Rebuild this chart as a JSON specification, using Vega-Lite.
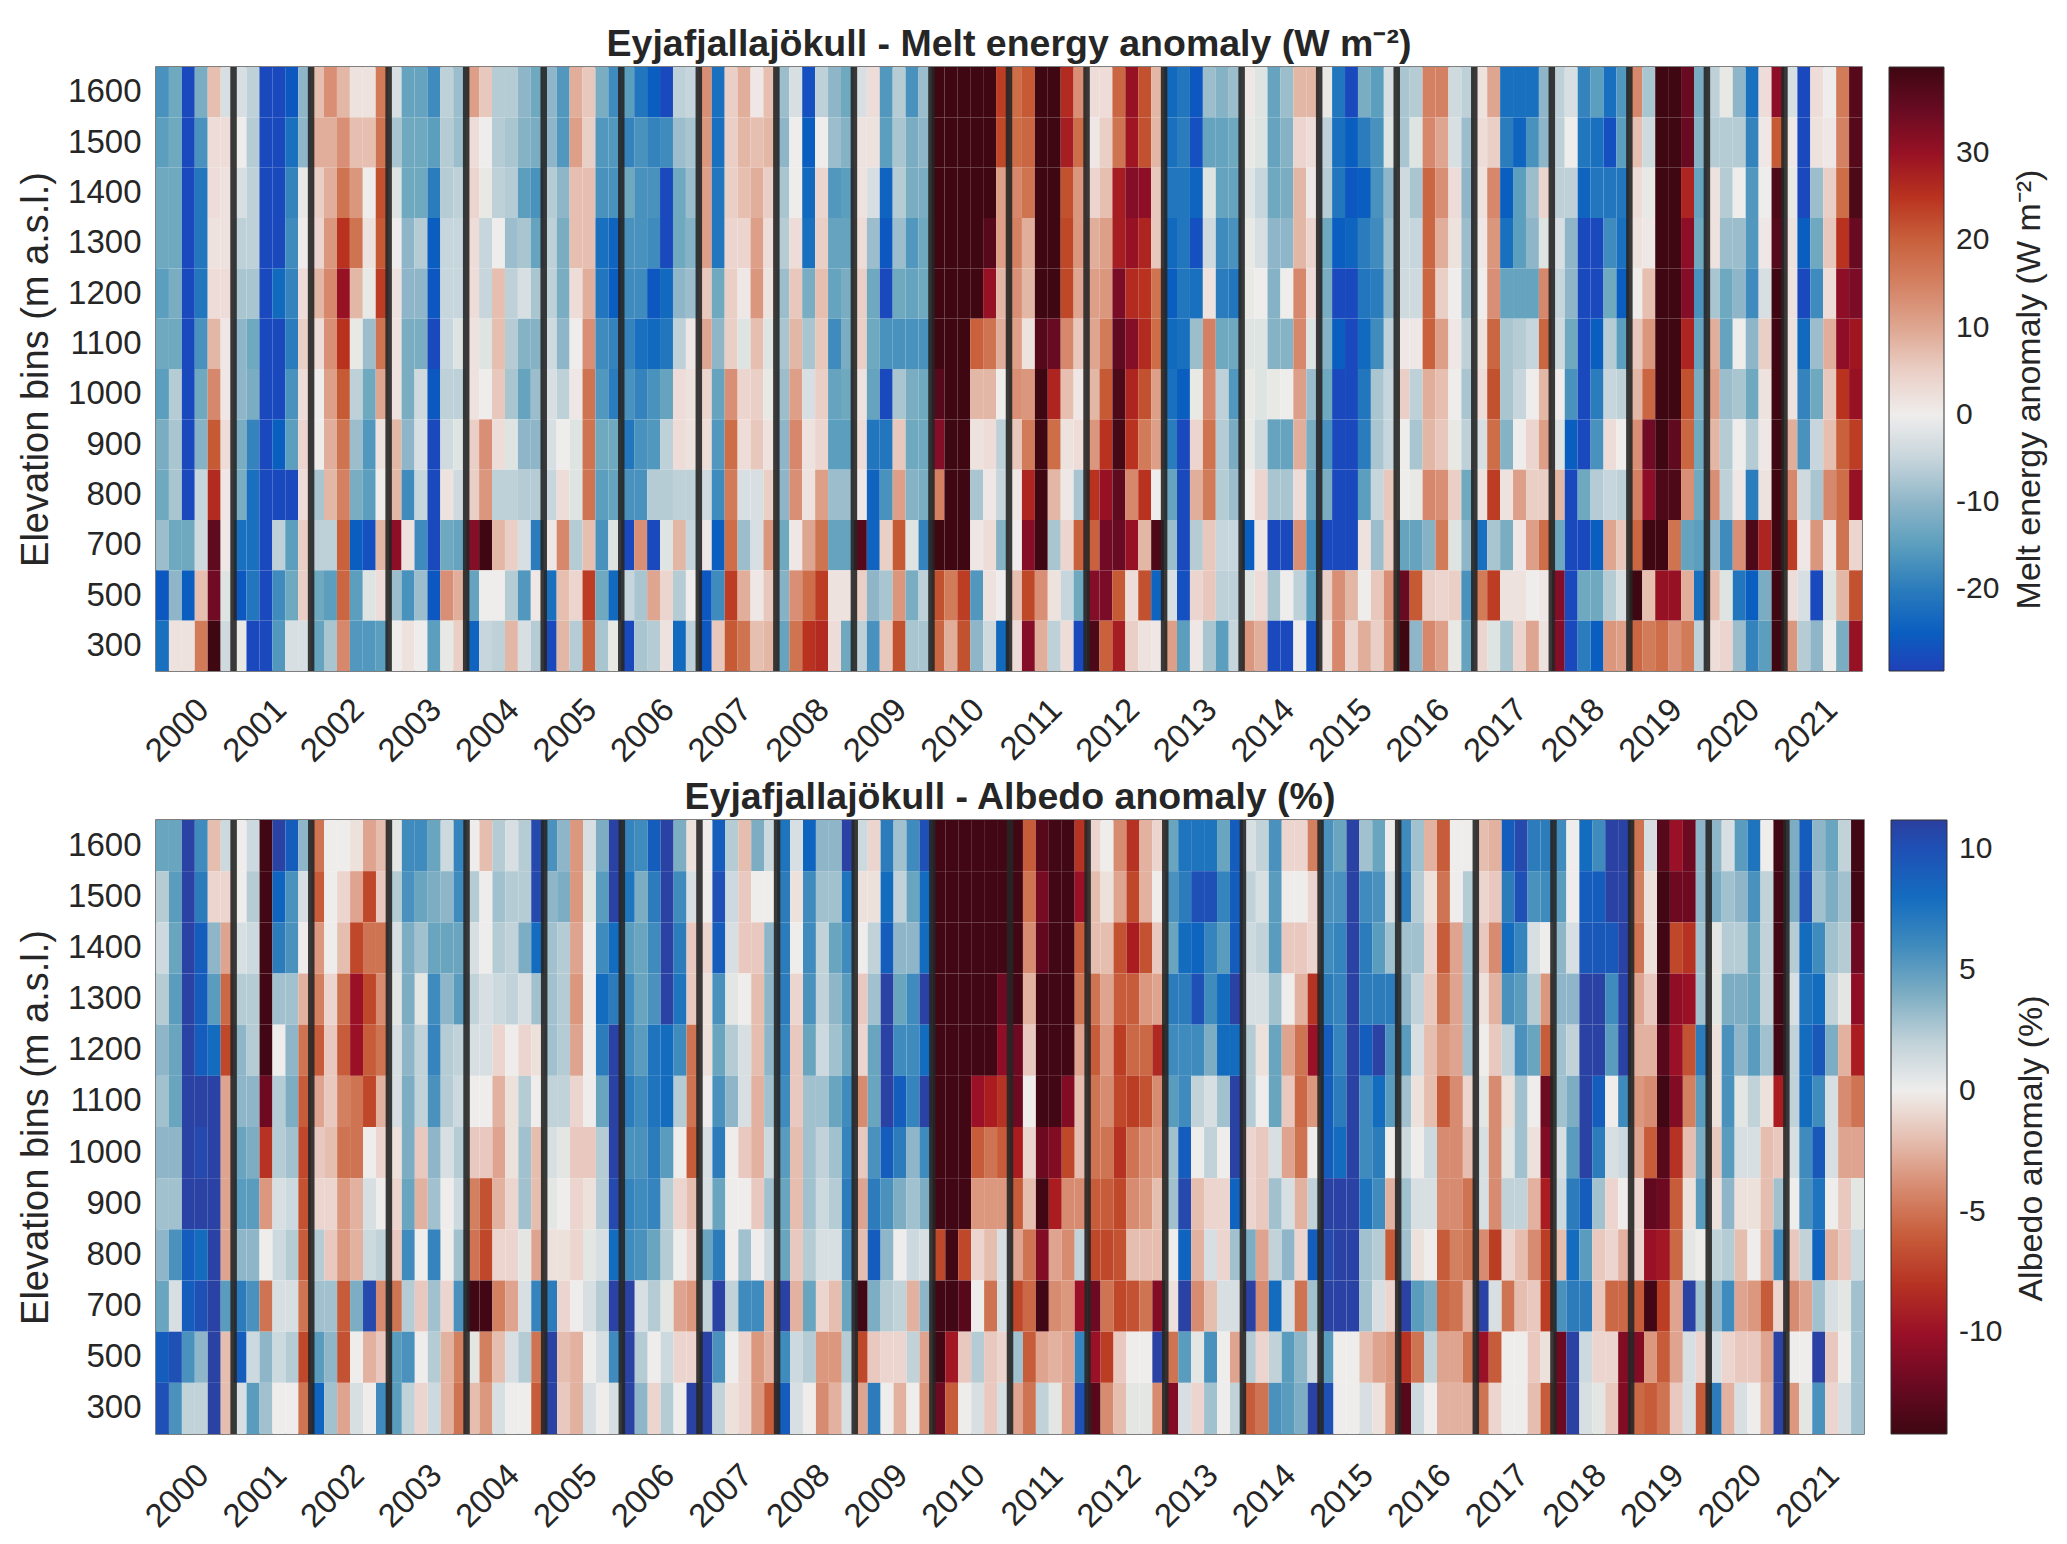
{"$schema":"https://vega.github.io/schema/vega-lite/v6.json","background":"white","padding":{"left":16,"top":25,"right":0,"bottom":0},"config":{"font":"Liberation Sans","view":{"stroke":"#555555","strokeWidth":1.5}},
"datasets":{"s":[{"t":2001.1},{"t":2002.1},{"t":2003.1},{"t":2004.1},{"t":2005.1},{"t":2006.1},{"t":2007.1},{"t":2008.1},{"t":2009.1},{"t":2010.1},{"t":2011.1},{"t":2012.1},{"t":2013.1},{"t":2014.1},{"t":2015.1},{"t":2016.1},{"t":2017.1},{"t":2018.1},{"t":2019.1},{"t":2020.1},{"t":2021.1}],
"m":[
{"t":2000.1,"1600":-17,"1500":-15,"1400":-13,"1300":-13,"1200":-15,"1100":-13,"1000":-15,"900":-12,"800":-13,"700":-9,"500":-26,"300":-22},
{"t":2000.2,"1600":-13,"1500":-13,"1400":-13,"1300":-13,"1200":-12,"1100":-13,"1000":-7,"900":-8,"800":-8,"700":-13,"500":-10,"300":2},
{"t":2000.3,"1600":-28,"1500":-28,"1400":-28,"1300":-28,"1200":-28,"1100":-28,"1000":-28,"900":-28,"800":-28,"700":-13,"500":-25,"300":2},
{"t":2000.4,"1600":-12,"1500":-17,"1400":-21,"1300":-21,"1200":-21,"1100":-17,"1000":-13,"900":-11,"800":-5,"700":-4,"500":7,"300":16},
{"t":2000.5,"1600":7,"1500":3,"1400":3,"1300":2,"1200":3,"1100":8,"1000":14,"900":21,"800":26,"700":36,"500":34,"300":40},
{"t":2000.6,"1600":-3,"1500":3,"1400":2,"1300":2,"1200":3,"1100":1,"1000":1,"900":3,"800":1,"700":1,"500":-2,"300":-4},
{"t":2001.1,"1600":-3,"1500":0,"1400":-3,"1300":-6,"1200":-8,"1100":-10,"1000":-10,"900":-12,"800":-12,"700":-22,"500":-26,"300":-1},
{"t":2001.2,"1600":-6,"1500":-7,"1400":-6,"1300":-6,"1200":-8,"1100":-13,"1000":-12,"900":-19,"800":-22,"700":-22,"500":-21,"300":-28},
{"t":2001.3,"1600":-28,"1500":-28,"1400":-28,"1300":-28,"1200":-28,"1100":-28,"1000":-28,"900":-28,"800":-28,"700":-28,"500":-28,"300":-28},
{"t":2001.4,"1600":-28,"1500":-28,"1400":-28,"1300":-28,"1200":-23,"1100":-28,"1000":-28,"900":-25,"800":-28,"700":-6,"500":-18,"300":-16},
{"t":2001.5,"1600":-26,"1500":-22,"1400":-19,"1300":-18,"1200":-19,"1100":-20,"1000":-17,"900":-15,"800":-28,"700":-15,"500":-13,"300":-3},
{"t":2001.6,"1600":-10,"1500":-10,"1400":-1,"1300":0,"1200":3,"1100":5,"1000":3,"900":4,"800":3,"700":5,"500":5,"300":-3},
{"t":2002.1,"1600":7,"1500":9,"1400":5,"1300":4,"1200":8,"1100":3,"1000":0,"900":0,"800":-8,"700":-6,"500":-13,"300":-14},
{"t":2002.2,"1600":13,"1500":9,"1400":9,"1300":12,"1200":14,"1100":13,"1000":11,"900":9,"800":8,"700":-6,"500":-15,"300":-8},
{"t":2002.3,"1600":8,"1500":13,"1400":17,"1300":25,"1200":30,"1100":25,"1000":21,"900":17,"800":15,"700":20,"500":19,"300":14},
{"t":2002.4,"1600":2,"1500":7,"1400":12,"1300":17,"1200":8,"1100":-1,"1000":-6,"900":-9,"800":-12,"700":-25,"500":-15,"300":-16},
{"t":2002.5,"1600":2,"1500":7,"1400":0,"1300":2,"1200":-1,"1100":-9,"1000":-13,"900":-16,"800":-15,"700":-27,"500":-2,"300":-16},
{"t":2002.6,"1600":16,"1500":17,"1400":22,"1300":21,"1200":24,"1100":17,"1000":10,"900":2,"800":0,"700":8,"500":3,"300":-15},
{"t":2003.1,"1600":-3,"1500":-8,"1400":-2,"1300":0,"1200":2,"1100":2,"1000":2,"900":8,"800":8,"700":31,"500":-9,"300":0},
{"t":2003.2,"1600":-14,"1500":-13,"1400":-13,"1300":-10,"1200":-10,"1100":-12,"1000":-12,"900":-10,"800":-18,"700":2,"500":-17,"300":2},
{"t":2003.3,"1600":-14,"1500":-13,"1400":-13,"1300":-7,"1200":-10,"1100":-12,"1000":-4,"900":-3,"800":-5,"700":-18,"500":-9,"300":0},
{"t":2003.4,"1600":-18,"1500":-15,"1400":-20,"1300":-25,"1200":-26,"1100":-28,"1000":-26,"900":-28,"800":-28,"700":-28,"500":-26,"300":-15},
{"t":2003.5,"1600":-6,"1500":-7,"1400":-7,"1300":-5,"1200":-5,"1100":-5,"1000":-6,"900":-4,"800":2,"700":-13,"500":13,"300":-1},
{"t":2003.6,"1600":-9,"1500":-9,"1400":-6,"1300":-5,"1200":-5,"1100":-2,"1000":-6,"900":-2,"800":-4,"700":-14,"500":9,"300":5},
{"t":2004.1,"1600":11,"1500":3,"1400":4,"1300":3,"1200":3,"1100":2,"1000":2,"900":5,"800":5,"700":32,"500":-14,"300":-24},
{"t":2004.2,"1600":6,"1500":0,"1400":-1,"1300":-5,"1200":-5,"1100":-2,"1000":0,"900":13,"800":12,"700":40,"500":0,"300":-5},
{"t":2004.3,"1600":-7,"1500":-7,"1400":-6,"1300":0,"1200":7,"1100":7,"1000":6,"900":3,"800":-6,"700":8,"500":0,"300":-6},
{"t":2004.4,"1600":-7,"1500":-8,"1400":-7,"1300":-9,"1200":-6,"1100":-7,"1000":-8,"900":-2,"800":-6,"700":5,"500":-7,"300":8},
{"t":2004.5,"1600":-10,"1500":-11,"1400":-15,"1300":-8,"1200":-3,"1100":-11,"1000":-14,"900":-10,"800":-7,"700":-3,"500":-16,"300":-3},
{"t":2004.6,"1600":-13,"1500":-12,"1400":-17,"1300":-14,"1200":-8,"1100":-11,"1000":-9,"900":-10,"800":-7,"700":-20,"500":1,"300":-7},
{"t":2005.1,"1600":-10,"1500":-10,"1400":-7,"1300":-6,"1200":-6,"1100":-4,"1000":-3,"900":-3,"800":-5,"700":1,"500":-22,"300":-28},
{"t":2005.2,"1600":-16,"1500":-16,"1400":-10,"1300":-12,"1200":-12,"1100":-10,"1000":-6,"900":0,"800":3,"700":14,"500":7,"300":8},
{"t":2005.3,"1600":9,"1500":11,"1400":7,"1300":7,"1200":3,"1100":0,"1000":1,"900":-2,"800":-2,"700":-7,"500":4,"300":-7},
{"t":2005.4,"1600":6,"1500":5,"1400":7,"1300":7,"1200":9,"1100":13,"1000":17,"900":17,"800":17,"700":7,"500":24,"300":20},
{"t":2005.5,"1600":-12,"1500":-16,"1400":-17,"1300":-22,"1200":-21,"1100":-18,"1000":-16,"900":-13,"800":-15,"700":-17,"500":-13,"300":-8},
{"t":2005.6,"1600":-18,"1500":-16,"1400":-17,"1300":-24,"1200":-25,"1100":-19,"1000":-20,"900":-13,"800":-14,"700":-2,"500":-23,"300":-1},
{"t":2006.1,"1600":-15,"1500":-19,"1400":-13,"1300":-17,"1200":-18,"1100":-19,"1000":-17,"900":-21,"800":-17,"700":-28,"500":-5,"300":-28},
{"t":2006.2,"1600":-21,"1500":-17,"1400":-17,"1300":-17,"1200":-18,"1100":-22,"1000":-19,"900":-17,"800":-17,"700":13,"500":-8,"300":-8},
{"t":2006.3,"1600":-25,"1500":-19,"1400":-17,"1300":-18,"1200":-26,"1100":-23,"1000":-17,"900":-16,"800":-7,"700":-28,"500":10,"300":-7},
{"t":2006.4,"1600":-28,"1500":-18,"1400":-28,"1300":-28,"1200":-23,"1100":-21,"1000":-14,"900":-6,"800":-7,"700":-2,"500":4,"300":2},
{"t":2006.5,"1600":-6,"1500":-9,"1400":-13,"1300":-13,"1200":-10,"1100":-6,"1000":3,"900":3,"800":-6,"700":8,"500":-7,"300":-23},
{"t":2006.6,"1600":-5,"1500":-8,"1400":-9,"1300":-11,"1200":-9,"1100":1,"1000":2,"900":2,"800":-6,"700":-5,"500":0,"300":-6},
{"t":2007.1,"1600":13,"1500":12,"1400":11,"1300":11,"1200":6,"1100":10,"1000":4,"900":3,"800":-4,"700":1,"500":-26,"300":-26},
{"t":2007.2,"1600":-22,"1500":-22,"1400":-21,"1300":-21,"1200":-13,"1100":-10,"1000":-14,"900":-16,"800":-18,"700":-25,"500":-18,"300":6},
{"t":2007.3,"1600":5,"1500":5,"1400":5,"1300":4,"1200":5,"1100":5,"1000":13,"900":18,"800":16,"700":18,"500":24,"300":21},
{"t":2007.4,"1600":9,"1500":8,"1400":7,"1300":4,"1200":1,"1100":-2,"1000":4,"900":3,"800":-3,"700":-9,"500":9,"300":17},
{"t":2007.5,"1600":1,"1500":7,"1400":9,"1300":11,"1200":12,"1100":7,"1000":5,"900":6,"800":-3,"700":-3,"500":1,"300":7},
{"t":2007.6,"1600":7,"1500":8,"1400":5,"1300":3,"1200":2,"1100":-2,"1000":-1,"900":2,"800":5,"700":12,"500":6,"300":8},
{"t":2008.1,"1600":-9,"1500":-10,"1400":-8,"1300":-7,"1200":-9,"1100":-8,"1000":-9,"900":-10,"800":-10,"700":-13,"500":-11,"300":-14},
{"t":2008.2,"1600":-3,"1500":0,"1400":0,"1300":3,"1200":6,"1100":8,"1000":11,"900":14,"800":13,"700":1,"500":13,"300":17},
{"t":2008.3,"1600":-27,"1500":-25,"1400":-23,"1300":-22,"1200":-12,"1100":-8,"1000":-3,"900":2,"800":2,"700":10,"500":18,"300":25},
{"t":2008.4,"1600":-6,"1500":0,"1400":4,"1300":5,"1200":7,"1100":6,"1000":5,"900":4,"800":11,"700":17,"500":24,"300":26},
{"t":2008.5,"1600":-10,"1500":-9,"1400":-16,"1300":-14,"1200":-14,"1100":-18,"1000":-14,"900":-15,"800":-9,"700":-14,"500":2,"300":3},
{"t":2008.6,"1600":-13,"1500":-11,"1400":-15,"1300":-14,"1200":-12,"1100":-12,"1000":-13,"900":-15,"800":-9,"700":-14,"500":2,"300":-13},
{"t":2009.1,"1600":-3,"1500":2,"1400":2,"1300":3,"1200":5,"1100":5,"1000":2,"900":3,"800":1,"700":37,"500":5,"300":-6},
{"t":2009.2,"1600":3,"1500":2,"1400":-3,"1300":-9,"1200":-13,"1100":-13,"1000":-14,"900":-21,"800":-24,"700":-24,"500":-10,"300":-17},
{"t":2009.3,"1600":-16,"1500":-15,"1400":-24,"1300":-26,"1200":-28,"1100":-17,"1000":-28,"900":-21,"800":-17,"700":5,"500":-8,"300":6},
{"t":2009.4,"1600":-7,"1500":-8,"1400":-7,"1300":-9,"1200":-13,"1100":-17,"1000":-8,"900":6,"800":11,"700":21,"500":12,"300":22},
{"t":2009.5,"1600":-17,"1500":-12,"1400":-12,"1300":-16,"1200":-14,"1100":-17,"1000":-12,"900":-13,"800":-11,"700":-2,"500":-12,"300":-8},
{"t":2009.6,"1600":-9,"1500":-10,"1400":-12,"1300":-13,"1200":-13,"1100":-17,"1000":-13,"900":-13,"800":-12,"700":-19,"500":-6,"300":-8},
{"t":2010.1,"1600":40,"1500":40,"1400":40,"1300":40,"1200":40,"1100":40,"1000":37,"900":32,"800":15,"700":40,"500":22,"300":19},
{"t":2010.2,"1600":40,"1500":40,"1400":40,"1300":40,"1200":40,"1100":40,"1000":40,"900":40,"800":40,"700":40,"500":16,"300":9},
{"t":2010.3,"1600":40,"1500":40,"1400":40,"1300":40,"1200":40,"1100":40,"1000":40,"900":40,"800":40,"700":40,"500":24,"300":22},
{"t":2010.4,"1600":40,"1500":40,"1400":40,"1300":40,"1200":40,"1100":20,"1000":8,"900":2,"800":-8,"700":1,"500":-16,"300":-10},
{"t":2010.5,"1600":40,"1500":40,"1400":40,"1300":37,"1200":30,"1100":17,"1000":8,"900":3,"800":1,"700":3,"500":2,"300":-4},
{"t":2010.6,"1600":24,"1500":23,"1400":11,"1300":11,"1200":8,"1100":9,"1000":0,"900":-6,"800":-5,"700":-11,"500":0,"300":-23},
{"t":2011.1,"1600":18,"1500":18,"1400":14,"1300":15,"1200":13,"1100":11,"1000":13,"900":6,"800":1,"700":0,"500":7,"300":3},
{"t":2011.2,"1600":21,"1500":19,"1400":17,"1300":9,"1200":8,"1100":2,"1000":12,"900":16,"800":27,"700":32,"500":23,"300":32},
{"t":2011.3,"1600":40,"1500":40,"1400":40,"1300":40,"1200":40,"1100":37,"1000":40,"900":40,"800":40,"700":40,"500":13,"300":9},
{"t":2011.4,"1600":40,"1500":40,"1400":40,"1300":40,"1200":40,"1100":35,"1000":27,"900":18,"800":8,"700":-8,"500":2,"300":-6},
{"t":2011.5,"1600":26,"1500":28,"1400":22,"1300":23,"1200":23,"1100":14,"1000":7,"900":2,"800":1,"700":4,"500":-5,"300":3},
{"t":2011.6,"1600":13,"1500":18,"1400":12,"1300":12,"1200":10,"1100":6,"1000":1,"900":3,"800":-8,"700":20,"500":-13,"300":-28},
{"t":2012.1,"1600":3,"1500":1,"1400":4,"1300":9,"1200":11,"1100":10,"1000":8,"900":12,"800":25,"700":20,"500":32,"300":38},
{"t":2012.2,"1600":3,"1500":5,"1400":7,"1300":11,"1200":12,"1100":16,"1000":21,"900":25,"800":30,"700":34,"500":33,"300":20},
{"t":2012.3,"1600":19,"1500":17,"1400":28,"1300":28,"1200":33,"1100":36,"1000":38,"900":39,"800":36,"700":35,"500":21,"300":28},
{"t":2012.4,"1600":30,"1500":29,"1400":32,"1300":30,"1200":26,"1100":32,"1000":27,"900":25,"800":14,"700":30,"500":3,"300":5},
{"t":2012.5,"1600":22,"1500":22,"1400":31,"1300":27,"1200":25,"1100":26,"1000":22,"900":16,"800":25,"700":8,"500":22,"300":2},
{"t":2012.6,"1600":8,"1500":8,"1400":6,"1300":6,"1200":17,"1100":18,"1000":11,"900":11,"800":0,"700":38,"500":-24,"300":1},
{"t":2013.1,"1600":-23,"1500":-22,"1400":-21,"1300":-23,"1200":-25,"1100":-23,"1000":-22,"900":-20,"800":-14,"700":-9,"500":-3,"300":11},
{"t":2013.2,"1600":-21,"1500":-20,"1400":-21,"1300":-21,"1200":-21,"1100":-22,"1000":-25,"900":-28,"800":-28,"700":-28,"500":-27,"300":-15},
{"t":2013.3,"1600":-26,"1500":-27,"1400":-24,"1300":-27,"1200":-22,"1100":-9,"1000":-1,"900":4,"800":9,"700":-7,"500":4,"300":1},
{"t":2013.4,"1600":-9,"1500":-14,"1400":-2,"1300":-4,"1200":2,"1100":15,"1000":14,"900":17,"800":16,"700":6,"500":6,"300":-8},
{"t":2013.5,"1600":-11,"1500":-14,"1400":-14,"1300":-18,"1200":-20,"1100":-13,"1000":-6,"900":-7,"800":-7,"700":-5,"500":-6,"300":-15},
{"t":2013.6,"1600":-9,"1500":-13,"1400":-14,"1300":-17,"1200":-21,"1100":-13,"1000":-16,"900":-12,"800":-9,"700":-5,"500":-6,"300":-5},
{"t":2014.1,"1600":1,"1500":-1,"1400":-2,"1300":-1,"1200":-1,"1100":-2,"1000":-1,"900":-1,"800":0,"700":-25,"500":-2,"300":12},
{"t":2014.2,"1600":-2,"1500":-2,"1400":-5,"1300":-3,"1200":0,"1100":-2,"1000":-2,"900":-4,"800":4,"700":1,"500":3,"300":9},
{"t":2014.3,"1600":-14,"1500":-14,"1400":-13,"1300":-10,"1200":-11,"1100":-11,"1000":-1,"900":-14,"800":-8,"700":-28,"500":-8,"300":-28},
{"t":2014.4,"1600":-9,"1500":-11,"1400":-12,"1300":-10,"1200":0,"1100":-11,"1000":0,"900":-14,"800":-8,"700":-28,"500":0,"300":-28},
{"t":2014.5,"1600":8,"1500":4,"1400":8,"1300":8,"1200":14,"1100":14,"1000":11,"900":9,"800":3,"700":13,"500":-6,"300":0},
{"t":2014.6,"1600":8,"1500":3,"1400":1,"1300":4,"1200":3,"1100":-2,"1000":-9,"900":-12,"800":-14,"700":-18,"500":-15,"300":-27},
{"t":2015.1,"1600":-1,"1500":-6,"1400":-7,"1300":-13,"1200":-12,"1100":-11,"1000":-13,"900":-17,"800":-12,"700":-28,"500":5,"300":2},
{"t":2015.2,"1600":-21,"1500":-22,"1400":-21,"1300":-25,"1200":-28,"1100":-25,"1000":-28,"900":-28,"800":-28,"700":-28,"500":13,"300":14},
{"t":2015.3,"1600":-28,"1500":-25,"1400":-26,"1300":-24,"1200":-28,"1100":-28,"1000":-28,"900":-28,"800":-28,"700":-28,"500":8,"300":4},
{"t":2015.4,"1600":-12,"1500":-20,"1400":-25,"1300":-20,"1200":-21,"1100":-23,"1000":-21,"900":-20,"800":-15,"700":2,"500":0,"300":9},
{"t":2015.5,"1600":-15,"1500":-17,"1400":-17,"1300":-18,"1200":-20,"1100":-18,"1000":-8,"900":-8,"800":-5,"700":-9,"500":6,"300":5},
{"t":2015.6,"1600":-3,"1500":-2,"1400":-10,"1300":-9,"1200":-10,"1100":-6,"1000":-5,"900":-5,"800":6,"700":5,"500":13,"300":12},
{"t":2016.1,"1600":-8,"1500":-8,"1400":-4,"1300":-4,"1200":-4,"1100":1,"1000":5,"900":0,"800":0,"700":-14,"500":35,"300":40},
{"t":2016.2,"1600":-7,"1500":-2,"1400":-8,"1300":-5,"1200":-4,"1100":1,"1000":-6,"900":-8,"800":-1,"700":-14,"500":21,"300":-10},
{"t":2016.3,"1600":15,"1500":14,"1400":19,"1300":19,"1200":19,"1100":20,"1000":9,"900":8,"800":14,"700":-11,"500":5,"300":14},
{"t":2016.4,"1600":15,"1500":10,"1400":13,"1300":9,"1200":5,"1100":11,"1000":7,"900":6,"800":13,"700":16,"500":4,"300":11},
{"t":2016.5,"1600":-4,"1500":-3,"1400":3,"1300":2,"1200":0,"1100":1,"1000":0,"900":-1,"800":5,"700":-2,"500":5,"300":-1},
{"t":2016.6,"1600":-6,"1500":-9,"1400":-10,"1300":-9,"1200":-9,"1100":-6,"1000":-8,"900":-6,"800":-13,"700":-10,"500":-17,"300":-14},
{"t":2017.1,"1600":2,"1500":3,"1400":2,"1300":1,"1200":0,"1100":2,"1000":3,"900":-3,"800":2,"700":-22,"500":16,"300":4},
{"t":2017.2,"1600":10,"1500":5,"1400":14,"1300":12,"1200":13,"1100":19,"1000":22,"900":18,"800":24,"700":-8,"500":24,"300":-2},
{"t":2017.3,"1600":-22,"1500":-20,"1400":-25,"1300":-22,"1200":-14,"1100":-8,"1000":-8,"900":-11,"800":2,"700":-12,"500":2,"300":-8},
{"t":2017.4,"1600":-22,"1500":-24,"1400":-15,"1300":-15,"1200":-14,"1100":-7,"1000":-5,"900":0,"800":11,"700":1,"500":2,"300":4},
{"t":2017.5,"1600":-22,"1500":-17,"1400":-9,"1300":-10,"1200":-14,"1100":-5,"1000":0,"900":4,"800":5,"700":11,"500":0,"300":10},
{"t":2017.6,"1600":-10,"1500":-10,"1400":4,"1300":-2,"1200":14,"1100":19,"1000":8,"900":11,"800":5,"700":18,"500":1,"300":2},
{"t":2018.1,"1600":-6,"1500":-6,"1400":-6,"1300":-3,"1200":-5,"1100":-4,"1000":0,"900":-2,"800":8,"700":-13,"500":32,"300":32},
{"t":2018.2,"1600":-3,"1500":0,"1400":-6,"1300":-10,"1200":-10,"1100":-13,"1000":-17,"900":-25,"800":-28,"700":-28,"500":-28,"300":-28},
{"t":2018.3,"1600":-19,"1500":-21,"1400":-24,"1300":-28,"1200":-28,"1100":-28,"1000":-28,"900":-28,"800":-13,"700":-28,"500":-13,"300":-20},
{"t":2018.4,"1600":-15,"1500":-22,"1400":-21,"1300":-28,"1200":-28,"1100":-25,"1000":-20,"900":-17,"800":-7,"700":-25,"500":-13,"300":-25},
{"t":2018.5,"1600":-22,"1500":-27,"1400":-21,"1300":-18,"1200":-13,"1100":-7,"1000":-5,"900":3,"800":-5,"700":10,"500":-7,"300":12},
{"t":2018.6,"1600":-16,"1500":-15,"1400":-21,"1300":-22,"1200":-25,"1100":-15,"1000":-6,"900":0,"800":-6,"700":6,"500":-3,"300":11},
{"t":2019.1,"1600":14,"1500":7,"1400":3,"1300":2,"1200":0,"1100":6,"1000":8,"900":13,"800":15,"700":19,"500":40,"300":19},
{"t":2019.2,"1600":-8,"1500":-4,"1400":-1,"1300":1,"1200":7,"1100":12,"1000":19,"900":34,"800":31,"700":40,"500":7,"300":16},
{"t":2019.3,"1600":40,"1500":40,"1400":40,"1300":40,"1200":40,"1100":40,"1000":40,"900":40,"800":38,"700":40,"500":30,"300":18},
{"t":2019.4,"1600":40,"1500":40,"1400":40,"1300":40,"1200":40,"1100":40,"1000":40,"900":36,"800":38,"700":17,"500":30,"300":13},
{"t":2019.5,"1600":35,"1500":35,"1400":27,"1300":31,"1200":32,"1100":27,"1000":22,"900":19,"800":13,"700":-14,"500":9,"300":16},
{"t":2019.6,"1600":-12,"1500":-11,"1400":-14,"1300":-13,"1200":-17,"1100":-14,"1000":-12,"900":-13,"800":-13,"700":-15,"500":-22,"300":-6},
{"t":2020.1,"1600":-6,"1500":-7,"1400":2,"1300":2,"1200":-8,"1100":9,"1000":11,"900":8,"800":13,"700":-10,"500":7,"300":3},
{"t":2020.2,"1600":-1,"1500":-7,"1400":-7,"1300":-9,"1200":-13,"1100":-14,"1000":-9,"900":-7,"800":-6,"700":-18,"500":-2,"300":4},
{"t":2020.3,"1600":-10,"1500":-7,"1400":0,"1300":-9,"1200":-10,"1100":0,"1000":-8,"900":0,"800":1,"700":13,"500":-21,"300":-9},
{"t":2020.4,"1600":-22,"1500":-19,"1400":-16,"1300":-16,"1200":-18,"1100":-10,"1000":-13,"900":-7,"800":-20,"700":38,"500":-25,"300":-19},
{"t":2020.5,"1600":3,"1500":1,"1400":0,"1300":1,"1200":-3,"1100":5,"1000":2,"900":1,"800":2,"700":27,"500":-12,"300":-15},
{"t":2020.6,"1600":31,"1500":21,"1400":38,"1300":37,"1200":40,"1100":40,"1000":40,"900":40,"800":40,"700":40,"500":40,"300":40},
{"t":2021.1,"1600":-3,"1500":1,"1400":-1,"1300":2,"1200":2,"1100":2,"1000":2,"900":9,"800":14,"700":24,"500":3,"300":12},
{"t":2021.2,"1600":-28,"1500":-28,"1400":-28,"1300":-25,"1200":-28,"1100":-23,"1000":-19,"900":-17,"800":-4,"700":1,"500":-3,"300":-7},
{"t":2021.3,"1600":3,"1500":2,"1400":-9,"1300":-13,"1200":-18,"1100":-9,"1000":-13,"900":-5,"800":-8,"700":12,"500":-28,"300":-10},
{"t":2021.4,"1600":0,"1500":1,"1400":5,"1300":6,"1200":3,"1100":9,"1000":6,"900":7,"800":14,"700":1,"500":-2,"300":0},
{"t":2021.5,"1600":16,"1500":15,"1400":18,"1300":25,"1200":31,"1100":31,"1000":25,"900":20,"800":18,"700":17,"500":8,"300":-12},
{"t":2021.6,"1600":37,"1500":37,"1400":38,"1300":35,"1200":33,"1100":29,"1000":30,"900":24,"800":30,"700":4,"500":22,"300":30}],
"a":[
{"t":2000.1,"1600":4.5,"1500":2.5,"1400":1.5,"1300":2.5,"1200":3.5,"1100":3,"1000":3.5,"900":3,"800":3.5,"700":4.5,"500":9,"300":10},
{"t":2000.2,"1600":4.5,"1500":5,"1400":4.5,"1300":5,"1200":4.5,"1100":4.5,"1000":3.5,"900":3,"800":5.5,"700":1,"500":10,"300":5.5},
{"t":2000.3,"1600":11,"1500":11,"1400":11,"1300":11,"1200":11,"1100":11,"1000":11,"900":11,"800":9,"700":9,"500":5.5,"300":2},
{"t":2000.4,"1600":6,"1500":7,"1400":9,"1300":9,"1200":9,"1100":11,"1000":10.5,"900":11,"800":8,"700":10,"500":3.5,"300":2},
{"t":2000.5,"1600":-2,"1500":-1,"1400":3.5,"1300":5,"1200":8,"1100":11,"1000":11,"900":11,"800":11,"700":11,"500":11,"300":11},
{"t":2000.6,"1600":1.5,"1500":-1,"1400":-3,"1300":-5.5,"1200":-7,"1100":-3,"1000":-3,"900":-3,"800":-3,"700":5,"500":-2,"300":-2},
{"t":2001.1,"1600":0,"1500":0,"1400":1,"1300":2.5,"1200":3.5,"1100":3.5,"1000":4.5,"900":5,"800":3.5,"700":7,"500":9,"300":1},
{"t":2001.2,"1600":1.5,"1500":2.5,"1400":1.5,"1300":2.5,"1200":2.5,"1100":3.5,"1000":4,"900":5,"800":3.5,"700":5.5,"500":1.5,"300":5},
{"t":2001.3,"1600":-14,"1500":-14,"1400":-14,"1300":-14,"1200":-14,"1100":-12,"1000":-8,"900":-3.5,"800":0,"700":-5,"500":3.5,"300":3},
{"t":2001.4,"1600":11,"1500":8.5,"1400":7,"1300":3,"1200":0,"1100":2.5,"1000":2.5,"900":1,"800":1.5,"700":1,"500":1.5,"300":0},
{"t":2001.5,"1600":9,"1500":5.5,"1400":5.5,"1300":3,"1200":3.5,"1100":4,"1000":3,"900":1.5,"800":2.5,"700":1,"500":2.5,"300":0},
{"t":2001.6,"1600":3.5,"1500":1,"1400":0,"1300":-2.5,"1200":-5,"1100":-6,"1000":-7,"900":-6.5,"800":-6,"700":-5,"500":-7,"300":-5},
{"t":2002.1,"1600":-5,"1500":-6,"1400":-3.5,"1300":-4.5,"1200":-6,"1100":-3,"1000":-1.5,"900":-1,"800":2.5,"700":3,"500":5,"300":8.5},
{"t":2002.2,"1600":0,"1500":0,"1400":0,"1300":-1,"1200":-1.5,"1100":-1.5,"1000":-2,"900":-1,"800":-1.5,"700":3,"500":3.5,"300":3},
{"t":2002.3,"1600":0,"1500":-1,"1400":-2,"1300":-5,"1200":-6,"1100":-4.5,"1000":-5,"900":-3.5,"800":-3.5,"700":-6,"500":-6.5,"300":-3},
{"t":2002.4,"1600":-0.5,"1500":-3,"1400":-7,"1300":-10,"1200":-10,"1100":-5,"1000":-5,"900":-2.5,"800":-2.5,"700":4,"500":0,"300":1},
{"t":2002.5,"1600":-3,"1500":-7,"1400":-5,"1300":-7,"1200":-6,"1100":-7,"1000":0,"900":1,"800":1.5,"700":10.5,"500":-2.5,"300":0},
{"t":2002.6,"1600":-2,"1500":-1.5,"1400":-5,"1300":-4,"1200":-5,"1100":-2.5,"1000":-1,"900":0,"800":2,"700":-4,"500":-1.5,"300":6},
{"t":2003.1,"1600":0.5,"1500":2.5,"1400":1,"1300":0.5,"1200":1,"1100":1,"1000":-0.5,"900":-1,"800":-1.5,"700":-5,"500":5,"300":5},
{"t":2003.2,"1600":6,"1500":5.5,"1400":4,"1300":4,"1200":3.5,"1100":4,"1000":4,"900":4.5,"800":6,"700":2.5,"500":5.5,"300":2},
{"t":2003.3,"1600":6,"1500":4.5,"1400":3,"1300":0.5,"1200":2,"1100":2,"1000":-1.5,"900":-2.5,"800":0,"700":-1.5,"500":0,"300":-1},
{"t":2003.4,"1600":4.5,"1500":4,"1400":4.5,"1300":6,"1200":6.5,"1100":5.5,"1000":3.5,"900":3,"800":6.5,"700":3,"500":2.5,"300":1.5},
{"t":2003.5,"1600":1.5,"1500":3.5,"1400":4.5,"1300":3.5,"1200":2.5,"1100":2.5,"1000":1,"900":0,"800":0,"700":-1,"500":-2.5,"300":-2.5},
{"t":2003.6,"1600":6.5,"1500":6,"1400":4.5,"1300":5,"1200":2,"1100":1.5,"1000":2.5,"900":1.5,"800":3,"700":5.5,"500":-4.5,"300":-5},
{"t":2004.1,"1600":0,"1500":2.5,"1400":1,"1300":2,"1200":1,"1100":0,"1000":-1.5,"900":-4.5,"800":-5,"700":-14,"500":0.5,"300":-2},
{"t":2004.2,"1600":-2,"1500":0,"1400":0,"1300":1,"1200":1,"1100":0,"1000":-1.5,"900":-6.5,"800":-7,"700":-14,"500":-4.5,"300":-3.5},
{"t":2004.3,"1600":2.5,"1500":3,"1400":2.5,"1300":1.5,"1200":-1,"1100":-2.5,"1000":-3,"900":-2.5,"800":-1,"700":-4.5,"500":-2,"300":1},
{"t":2004.4,"1600":1,"1500":2.5,"1400":2,"1300":2,"1200":0,"1100":-0.5,"1000":-0.5,"900":-1,"800":-1,"700":-3,"500":1,"300":0},
{"t":2004.5,"1600":2.5,"1500":2.5,"1400":4,"1300":1,"1200":-1,"1100":2.5,"1000":3,"900":3,"800":0.5,"700":1,"500":2.5,"300":0},
{"t":2004.6,"1600":10.5,"1500":10.5,"1400":8,"1300":3,"1200":-0.5,"1100":0,"1000":-2,"900":-2,"800":-3,"700":6.5,"500":-5,"300":-6},
{"t":2005.1,"1600":5.5,"1500":3.5,"1400":3,"1300":3,"1200":3,"1100":2,"1000":1,"900":0.5,"800":-0.5,"700":7,"500":11,"300":11},
{"t":2005.2,"1600":3.5,"1500":4,"1400":2.5,"1300":2.5,"1200":2.5,"1100":2,"1000":0.5,"900":0,"800":-0.5,"700":-1,"500":-2,"300":-1.5},
{"t":2005.3,"1600":-3.5,"1500":-3.5,"1400":-3,"1300":-3.5,"1200":-3,"1100":-1,"1000":-1.5,"900":-1,"800":-1,"700":0,"500":-2.5,"300":-2.5},
{"t":2005.4,"1600":1,"1500":0.5,"1400":0,"1300":0,"1200":0,"1100":0,"1000":-1.5,"900":-0.5,"800":0.5,"700":1,"500":0,"300":1},
{"t":2005.5,"1600":4,"1500":5,"1400":6,"1300":8,"1200":7,"1100":4.5,"1000":2.5,"900":2.5,"800":1,"700":2.5,"500":1,"300":0},
{"t":2005.6,"1600":11,"1500":11,"1400":8,"1300":7,"1200":11,"1100":11,"1000":11,"900":10.5,"800":8,"700":11,"500":6,"300":1},
{"t":2006.1,"1600":6.5,"1500":7.5,"1400":5,"1300":6,"1200":6,"1100":7,"1000":5.5,"900":6.5,"800":6,"700":11,"500":11,"300":11},
{"t":2006.2,"1600":6,"1500":4,"1400":4.5,"1300":4.5,"1200":5,"1100":6,"1000":5.5,"900":6,"800":5.5,"700":1,"500":2.5,"300":3.5},
{"t":2006.3,"1600":9,"1500":7,"1400":6,"1300":5.5,"1200":7.5,"1100":7.5,"1000":7,"900":6.5,"800":4.5,"700":2.5,"500":0,"300":-1},
{"t":2006.4,"1600":11,"1500":11,"1400":11,"1300":11,"1200":8,"1100":8,"1000":5,"900":2.5,"800":2.5,"700":0.5,"500":1.5,"300":2.5},
{"t":2006.5,"1600":4,"1500":6,"1400":7,"1300":7.5,"1200":6,"1100":2.5,"1000":0,"900":-1,"800":0,"700":-3,"500":-1,"300":0},
{"t":2006.6,"1600":-0.5,"1500":1,"1400":-1.5,"1300":-1.5,"1200":-5,"1100":-5,"1000":-6,"900":-2,"800":-1,"700":-3.5,"500":-1,"300":11},
{"t":2007.1,"1600":0,"1500":0,"1400":-1,"1300":-0.5,"1200":-0.5,"1100":0,"1000":1,"900":1,"800":4.5,"700":2,"500":11,"300":11},
{"t":2007.2,"1600":9,"1500":10,"1400":9,"1300":5.5,"1200":4.5,"1100":5.5,"1000":7,"900":4.5,"800":7,"700":11,"500":5.5,"300":2},
{"t":2007.3,"1600":2.5,"1500":1.5,"1400":1,"1300":0.5,"1200":2.5,"1100":3.5,"1000":0,"900":0,"800":0,"700":2,"500":0,"300":-0.5},
{"t":2007.4,"1600":-2,"1500":-1.5,"1400":-1.5,"1300":0,"1200":1,"1100":1,"1000":-1.5,"900":0,"800":3,"700":6,"500":-1,"300":-1},
{"t":2007.5,"1600":4,"1500":0,"1400":-1.5,"1300":-2,"1200":-2,"1100":-2.5,"1000":-2.5,"900":-1.5,"800":0,"700":6,"500":-3.5,"300":-3.5},
{"t":2007.6,"1600":1.5,"1500":0,"1400":3.5,"1300":3.5,"1200":3.5,"1100":3,"1000":1.5,"900":3,"800":1.5,"700":-2.5,"500":-2.5,"300":-6},
{"t":2008.1,"1600":7.5,"1500":7,"1400":7,"1300":7,"1200":6.5,"1100":6,"1000":5,"900":4.5,"800":4.5,"700":11,"500":6,"300":9},
{"t":2008.2,"1600":1,"1500":-0.5,"1400":0,"1300":-1,"1200":-1.5,"1100":-1.5,"1000":-2,"900":-2,"800":-1.5,"700":-2.5,"500":1.5,"300":1},
{"t":2008.3,"1600":8.5,"1500":6,"1400":6,"1300":5.5,"1200":4.5,"1100":3,"1000":3,"900":3,"800":2.5,"700":4.5,"500":2.5,"300":0},
{"t":2008.4,"1600":3.5,"1500":3,"1400":2,"1300":2,"1200":1.5,"1100":3,"1000":2,"900":1.5,"800":1,"700":-1,"500":-3.5,"300":-4},
{"t":2008.5,"1600":3.5,"1500":3,"1400":4.5,"1300":3.5,"1200":3,"1100":4.5,"1000":3,"900":2.5,"800":1,"700":-2,"500":-3.5,"300":-2.5},
{"t":2008.6,"1600":11,"1500":7.5,"1400":6,"1300":5,"1200":4.5,"1100":6,"1000":6.5,"900":7,"800":6,"700":4.5,"500":2.5,"300":1},
{"t":2009.1,"1600":1.5,"1500":-0.5,"1400":0,"1300":-1.5,"1200":-1,"1100":-4,"1000":-1.5,"900":-3,"800":-2,"700":-14,"500":-7,"300":-3},
{"t":2009.2,"1600":-1,"1500":-0.5,"1400":2,"1300":3,"1200":4.5,"1100":4.5,"1000":5.5,"900":7,"800":9,"700":4,"500":-1.5,"300":7},
{"t":2009.3,"1600":7,"1500":8,"1400":9,"1300":11,"1200":11,"1100":11,"1000":9,"900":5.5,"800":3.5,"700":2.5,"500":-1,"300":0},
{"t":2009.4,"1600":3,"1500":2,"1400":3.5,"1300":4.5,"1200":6,"1100":9,"1000":7,"900":4,"800":0,"700":2,"500":-1,"300":-2.5},
{"t":2009.5,"1600":6,"1500":4.5,"1400":3.5,"1300":6,"1200":6,"1100":6.5,"1000":3.5,"900":3,"800":1.5,"700":-2.5,"500":2,"300":0},
{"t":2009.6,"1600":10,"1500":8,"1400":8,"1300":11,"1200":8,"1100":11,"1000":6,"900":4,"800":1,"700":3.5,"500":-3,"300":-3.5},
{"t":2010.1,"1600":-14,"1500":-14,"1400":-14,"1300":-14,"1200":-14,"1100":-14,"1000":-14,"900":-14,"800":-7,"700":-14,"500":-14,"300":-12},
{"t":2010.2,"1600":-14,"1500":-14,"1400":-14,"1300":-14,"1200":-14,"1100":-14,"1000":-14,"900":-14,"800":-14,"700":-14,"500":-9.5,"300":-6},
{"t":2010.3,"1600":-14,"1500":-14,"1400":-14,"1300":-14,"1200":-14,"1100":-14,"1000":-14,"900":-14,"800":-7,"700":-13,"500":-1.5,"300":0},
{"t":2010.4,"1600":-14,"1500":-14,"1400":-14,"1300":-14,"1200":-14,"1100":-10,"1000":-6,"900":-3.5,"800":-1,"700":0,"500":2.5,"300":1},
{"t":2010.5,"1600":-14,"1500":-14,"1400":-14,"1300":-14,"1200":-14,"1100":-9,"1000":-5,"900":-3.5,"800":-2,"700":-5,"500":-1.5,"300":-1.5},
{"t":2010.6,"1600":-14,"1500":-14,"1400":-14,"1300":-12,"1200":-10.5,"1100":-8,"1000":-6,"900":-3.5,"800":1,"700":1,"500":-1,"300":1},
{"t":2011.1,"1600":-14,"1500":-14,"1400":-14,"1300":-14,"1200":-12,"1100":-12,"1000":-9,"900":-6,"800":-3,"700":-7,"500":3,"300":-3},
{"t":2011.2,"1600":-6,"1500":-5,"1400":-4,"1300":-2.5,"1200":-1.5,"1100":0,"1000":-1,"900":-2,"800":-5,"700":-5.5,"500":-6,"300":-5},
{"t":2011.3,"1600":-13,"1500":-11.5,"1400":-12.5,"1300":-14,"1200":-14,"1100":-14,"1000":-12,"900":-14,"800":-11,"700":-14,"500":-3,"300":2},
{"t":2011.4,"1600":-14,"1500":-14,"1400":-14,"1300":-14,"1200":-14,"1100":-14,"1000":-11,"900":-9,"800":-3,"700":-4,"500":-2.5,"300":0.5},
{"t":2011.5,"1600":-14,"1500":-14,"1400":-14,"1300":-14,"1200":-14,"1100":-11,"1000":-7,"900":-4,"800":-4,"700":-3.5,"500":-3,"300":-3},
{"t":2011.6,"1600":-8,"1500":-10,"1400":-6,"1300":-5,"1200":-3,"1100":-2,"1000":-2,"900":-4,"800":2,"700":-10,"500":6.5,"300":10},
{"t":2012.1,"1600":-1,"1500":-2,"1400":-2,"1300":-5,"1200":-6,"1100":-5,"1000":-5,"900":-6,"800":-7,"700":-12,"500":-10,"300":-13},
{"t":2012.2,"1600":0,"1500":-0.5,"1400":-2,"1300":-3,"1200":-3.5,"1100":-4,"1000":-5,"900":-6,"800":-7,"700":-5,"500":-7.5,"300":-4},
{"t":2012.3,"1600":-4,"1500":-3,"1400":-6.5,"1300":-6,"1200":-7.5,"1100":-7,"1000":-8,"900":-7,"800":-6.5,"700":-7,"500":-1.5,"300":-2},
{"t":2012.4,"1600":-8,"1500":-7,"1400":-9,"1300":-6,"1200":-5.5,"1100":-7.5,"1000":-5,"900":-4,"800":-2,"700":-6.5,"500":0,"300":0.5},
{"t":2012.5,"1600":-2.5,"1500":-2.5,"1400":-6.5,"1300":-3.5,"1200":-5.5,"1100":-6.5,"1000":-4,"900":-3.5,"800":-2,"700":-5,"500":0,"300":0.5},
{"t":2012.6,"1600":-1,"1500":0,"1400":-1.5,"1300":-3,"1200":-8.5,"1100":-4,"1000":-3.5,"900":-2,"800":-2,"700":-11,"500":11,"300":-4},
{"t":2013.1,"1600":4.5,"1500":5.5,"1400":4.5,"1300":7,"1200":6,"1100":5,"1000":3,"900":3,"800":0,"700":-0.5,"500":-5,"300":-11},
{"t":2013.2,"1600":7.5,"1500":7,"1400":8,"1300":7,"1200":6,"1100":6,"1000":9,"900":10.5,"800":8.5,"700":11,"500":5,"300":1},
{"t":2013.3,"1600":7.5,"1500":10,"1400":8.5,"1300":10,"1200":6,"1100":2,"1000":0,"900":-2,"800":-2.5,"700":-4,"500":0.5,"300":-1},
{"t":2013.4,"1600":7.5,"1500":10,"1400":6.5,"1300":6,"1200":4,"1100":1,"1000":2,"900":-1,"800":1,"700":-2,"500":5.5,"300":3},
{"t":2013.5,"1600":4.5,"1500":6.5,"1400":5,"1300":8,"1200":8,"1100":3,"1000":0,"900":-1,"800":-1,"700":1,"500":0,"300":0},
{"t":2013.6,"1600":9,"1500":9,"1400":9,"1300":11,"1200":8,"1100":11,"1000":11,"900":8.5,"800":3,"700":1,"500":-3,"300":2},
{"t":2014.1,"1600":1,"1500":2,"1400":1.5,"1300":1,"1200":2.5,"1100":2.5,"1000":-1,"900":-1,"800":4,"700":11,"500":2.5,"300":-6},
{"t":2014.2,"1600":2,"1500":1,"1400":2,"1300":1,"1200":-0.5,"1100":0,"1000":-1.5,"900":-1.5,"800":-3,"700":-4,"500":-1,"300":-5},
{"t":2014.3,"1600":5.5,"1500":5,"1400":5,"1300":3,"1200":4.5,"1100":4.5,"1000":1,"900":3,"800":2,"700":8,"500":2,"300":5.5},
{"t":2014.4,"1600":-1,"1500":0,"1400":-1.5,"1300":0,"1200":-3,"1100":-1.5,"1000":-3,"900":1,"800":3.5,"700":1,"500":5,"300":5},
{"t":2014.5,"1600":-1,"1500":0,"1400":-1.5,"1300":-2.5,"1200":-5,"1100":-5.5,"1000":-5,"900":-2.5,"800":-1,"700":-5,"500":3.5,"300":4},
{"t":2014.6,"1600":-4.5,"1500":-1,"1400":-1,"1300":-8,"1200":-10,"1100":-3.5,"1000":0,"900":2,"800":9,"700":3,"500":1.5,"300":11},
{"t":2015.1,"1600":5.5,"1500":5.5,"1400":6,"1300":7,"1200":9,"1100":9,"1000":9,"900":11,"800":10.5,"700":11,"500":5,"300":10},
{"t":2015.2,"1600":4.5,"1500":5.5,"1400":6.5,"1300":6.5,"1200":6.5,"1100":7,"1000":8,"900":11,"800":11,"700":11,"500":0,"300":0},
{"t":2015.3,"1600":11,"1500":11,"1400":11,"1300":11,"1200":11,"1100":11,"1000":11,"900":11,"800":11,"700":11,"500":0,"300":0},
{"t":2015.4,"1600":3,"1500":6,"1400":7,"1300":7,"1200":9,"1100":6,"1000":6,"900":7.5,"800":3,"700":3,"500":-2,"300":1},
{"t":2015.5,"1600":4.5,"1500":5.5,"1400":5,"1300":7,"1200":11,"1100":8,"1000":7,"900":6,"800":2.5,"700":1,"500":-3,"300":-0.5},
{"t":2015.6,"1600":0,"1500":1,"1400":3,"1300":7,"1200":5.5,"1100":5,"1000":0,"900":-2.5,"800":-6,"700":-1,"500":-3.5,"300":-3.5},
{"t":2016.1,"1600":6,"1500":7,"1400":3,"1300":3.5,"1200":5,"1100":3,"1000":1.5,"900":3,"800":3,"700":11,"500":-8,"300":-13},
{"t":2016.2,"1600":3,"1500":2.5,"1400":3,"1300":2,"1200":1,"1100":-0.5,"1000":0,"900":1,"800":-0.5,"700":5,"500":-5,"300":1.5},
{"t":2016.3,"1600":-2.5,"1500":-0.5,"1400":-1,"1300":-1.5,"1200":-2,"1100":-2,"1000":1.5,"900":1,"800":0,"700":4,"500":2,"300":0},
{"t":2016.4,"1600":-6,"1500":-5,"1400":-6,"1300":-5,"1200":-3.5,"1100":-6,"1000":-4,"900":-4,"800":-6,"700":-5.5,"500":-3,"300":-2.5},
{"t":2016.5,"1600":0,"1500":0,"1400":-3,"1300":-3,"1200":-3,"1100":-4,"1000":-4,"900":-4,"800":-4.5,"700":-5,"500":-3,"300":-2.5},
{"t":2016.6,"1600":0,"1500":2.5,"1400":3,"1300":3,"1200":3,"1100":-1,"1000":-2,"900":-5,"800":-5,"700":-2.5,"500":-5,"300":-2.5},
{"t":2017.1,"1600":-2,"1500":-1,"1400":-1.5,"1300":-0.5,"1200":0,"1100":0.5,"1000":1,"900":1,"800":-4,"700":11,"500":-10,"300":-5},
{"t":2017.2,"1600":-2.5,"1500":-1.5,"1400":-4,"1300":-2.5,"1200":-1.5,"1100":-4,"1000":-4,"900":-4,"800":-7.5,"700":1,"500":-6,"300":-1},
{"t":2017.3,"1600":9,"1500":7,"1400":8,"1300":5.5,"1200":2,"1100":-0.5,"1000":0.5,"900":2,"800":-1,"700":-5,"500":0,"300":0},
{"t":2017.4,"1600":10.5,"1500":10,"1400":6.5,"1300":5,"1200":5.5,"1100":3,"1000":3,"900":2,"800":-2,"700":-2,"500":0,"300":0},
{"t":2017.5,"1600":7,"1500":5.5,"1400":1,"1300":2.5,"1200":4.5,"1100":0,"1000":-0.5,"900":-2.5,"800":-4,"700":-1.5,"500":-1.5,"300":-2},
{"t":2017.6,"1600":7,"1500":6,"1400":0,"1300":-3.5,"1200":-6,"1100":-12,"1000":-11,"900":-9,"800":-7.5,"700":-7.5,"500":-0.5,"300":-6},
{"t":2018.1,"1600":6,"1500":5,"1400":3.5,"1300":3.5,"1200":3,"1100":3,"1000":1,"900":1.5,"800":-2,"700":5.5,"500":-12,"300":-12},
{"t":2018.2,"1600":0,"1500":0,"1400":1,"1300":3.5,"1200":2,"1100":4,"1000":5,"900":7,"800":8,"700":7,"500":11,"300":11},
{"t":2018.3,"1600":8,"1500":9,"1400":9.5,"1300":11,"1200":11,"1100":11,"1000":11,"900":9,"800":5,"700":7,"500":1.5,"300":1},
{"t":2018.4,"1600":6,"1500":9,"1400":9.5,"1300":11,"1200":11,"1100":9,"1000":7,"900":3,"800":-1.5,"700":-1.5,"500":-1,"300":0.5},
{"t":2018.5,"1600":11,"1500":11,"1400":9.5,"1300":6,"1200":5,"1100":0,"1000":1,"900":-1,"800":-1,"700":-5.5,"500":-1,"300":-1.5},
{"t":2018.6,"1600":11,"1500":11,"1400":11,"1300":11,"1200":11,"1100":6,"1000":1.5,"900":0,"800":-2.5,"700":-5.5,"500":-11,"300":-11},
{"t":2019.1,"1600":-5,"1500":-4.5,"1400":-5,"1300":-3,"1200":-2.5,"1100":-3.5,"1000":-3,"900":-1,"800":-1,"700":-6,"500":-11,"300":-5.5},
{"t":2019.2,"1600":1,"1500":-0.5,"1400":-0.5,"1300":-1.5,"1200":-2.5,"1100":-4,"1000":-6,"900":-12.5,"800":-10,"700":-14,"500":-3.5,"300":-6},
{"t":2019.3,"1600":-13,"1500":-14,"1400":-14,"1300":-14,"1200":-13,"1100":-14,"1000":-13,"900":-12,"800":-9.5,"700":-7.5,"500":-6,"300":-5},
{"t":2019.4,"1600":-10,"1500":-12,"1400":-7,"1300":-10.5,"1200":-10,"1100":-11,"1000":-8,"900":-6,"800":-5.5,"700":-3,"500":-3,"300":-1.5},
{"t":2019.5,"1600":-12,"1500":-12,"1400":-8,"1300":-10,"1200":-6.5,"1100":-4.5,"1000":-2,"900":-0.5,"800":0.5,"700":11,"500":1,"300":1},
{"t":2019.6,"1600":3.5,"1500":3.5,"1400":3,"1300":3,"1200":7,"1100":5,"1000":4,"900":5,"800":0,"700":3,"500":-1,"300":-6},
{"t":2020.1,"1600":3.5,"1500":4,"1400":0.5,"1300":0.5,"1200":-0.5,"1100":-0.5,"1000":-1.5,"900":-0.5,"800":2,"700":3.5,"500":1,"300":7},
{"t":2020.2,"1600":1,"1500":3,"1400":2.5,"1300":4,"1200":5.5,"1100":5.5,"1000":5,"900":3.5,"800":2.5,"700":6,"500":-1,"300":-2.5},
{"t":2020.3,"1600":5,"1500":3.5,"1400":2.5,"1300":4,"1200":3.5,"1100":0.5,"1000":1,"900":-0.5,"800":-2,"700":-3,"500":-1.5,"300":1},
{"t":2020.4,"1600":7.5,"1500":5.5,"1400":4.5,"1300":4.5,"1200":5,"1100":2,"1000":1,"900":-0.5,"800":0,"700":-3.5,"500":-1.5,"300":0},
{"t":2020.5,"1600":0,"1500":2,"1400":2,"1300":2,"1200":3,"1100":-0.5,"1000":-2,"900":-2,"800":-2.5,"700":-6,"500":-3,"300":-2.5},
{"t":2020.6,"1600":-14,"1500":-14,"1400":-14,"1300":-14,"1200":-14,"1100":-9,"1000":-1.5,"900":3,"800":6,"700":-1,"500":11,"300":11},
{"t":2021.1,"1600":4,"1500":4,"1400":2.5,"1300":1,"1200":2,"1100":2,"1000":1,"900":0,"800":-1.5,"700":-4,"500":0,"300":-3.5},
{"t":2021.2,"1600":9,"1500":10,"1400":8,"1300":7.5,"1200":8,"1100":8,"1000":6,"900":5.5,"800":2,"700":-3,"500":0,"300":0.5},
{"t":2021.3,"1600":3.5,"1500":3,"1400":6,"1300":8,"1200":9.5,"1100":6,"1000":9.5,"900":7.5,"800":8.5,"700":3,"500":11,"300":5.5},
{"t":2021.4,"1600":4.5,"1500":4,"1400":3,"1300":2,"1200":4,"1100":1,"1000":1,"900":0,"800":-2.5,"700":1,"500":-1.5,"300":-1},
{"t":2021.5,"1600":2,"1500":3,"1400":2.5,"1300":0.5,"1200":-2.5,"1100":-4,"1000":-3,"900":-1.5,"800":-1.5,"700":0.5,"500":0,"300":1},
{"t":2021.6,"1600":-14,"1500":-14,"1400":-12,"1300":-10.5,"1200":-9,"1100":-5,"1000":-3,"900":0.5,"800":1.5,"700":3,"500":3,"300":3}]},
"spacing":9,"resolve":{"scale":{"color":"independent","x":"independent","y":"independent"}},
"vconcat":[
{"width":1706,"height":604,"title":{"text":"Eyjafjallajökull - Melt energy anomaly (W m⁻²)","fontSize":37.5,"fontWeight":"bold","color":"#262626","offset":0},
"layer":[
{"data":{"name":"m"},"transform":[{"fold":["1600","1500","1400","1300","1200","1100","1000","900","800","700","500","300"],"as":["e","v"]}],"mark":{"type":"rect"},"encoding":{
"x":{"field":"t","type":"ordinal","scale":{"paddingInner":0,"paddingOuter":0},"axis":{"title":null,"ticks":false,"domain":false,"values":[2000.3,2001.3,2002.3,2003.3,2004.3,2005.3,2006.3,2007.3,2008.3,2009.3,2010.3,2011.3,2012.3,2013.3,2014.3,2015.3,2016.3,2017.3,2018.3,2019.3,2020.3,2021.3],"labelExpr":"floor(datum.value)","labelAngle":-45,"labelAlign":"right","labelBaseline":"top","labelFontSize":33,"labelColor":"#262626","labelPadding":22,"labelOffset":4,"labelOverlap":false}},
"y":{"field":"e","type":"ordinal","scale":{"domain":["1600","1500","1400","1300","1200","1100","1000","900","800","700","500","300"],"paddingInner":0,"paddingOuter":0},"axis":{"title":"Elevation bins (m a.s.l.)","titleFontSize":38,"titleFontWeight":"normal","titleColor":"#262626","ticks":false,"domain":false,"labelFontSize":33,"labelColor":"#262626","labelPadding":15,"titlePadding":12}},
"color":{"field":"v","type":"quantitative","scale":{"clamp":true,"domain":[-29.4,-27,-24,-20,-17,-13,-10,-7,-3,0,3,6,9,13,17,21,25,29,33,39.9],"range":["#2040b8","#1450c0","#0f64bf","#2b7cbc","#4a92be","#6fa9bf","#8fb6c8","#b5ccd5","#d8dfe2","#efedec","#eedcd8","#e8c8bc","#e0ae9a","#d98f75","#cf7450","#c55a35","#b9321f","#a01522","#7a0c28","#3e0712"]},"legend":{"orient":"none","legendX":1733,"legendY":0,"title":null,"gradientLength":604,"gradientThickness":55,"gradientStrokeColor":"#333333","gradientStrokeWidth":1,"values":[-20,-10,0,10,20,30],"labelExpr":"''+datum.value","labelFontSize":30,"labelColor":"#262626","labelOffset":12,"labelOverlap":false}}}},
{"data":{"name":"s"},"mark":{"type":"rule","color":"#262626","opacity":0.9,"size":6.5},"encoding":{"x":{"field":"t","type":"ordinal","bandPosition":0}}},
{"data":{"values":[{"e":"300"}]},"mark":{"type":"point","opacity":0},"encoding":{"y":{"field":"e","type":"ordinal","axis":{"orient":"right","title":"Melt energy anomaly (W m⁻²)","titleFontSize":34,"titleFontWeight":"normal","titleColor":"#262626","titleAngle":-90,"titleY":322,"labels":false,"ticks":false,"domain":false,"titlePadding":184}}}}
],"resolve":{"axis":{"y":"independent"}}},
{"width":1708,"height":614,"title":{"text":"Eyjafjallajökull - Albedo anomaly (%)","fontSize":37.5,"fontWeight":"bold","color":"#262626","offset":0},
"layer":[
{"data":{"name":"a"},"transform":[{"fold":["1600","1500","1400","1300","1200","1100","1000","900","800","700","500","300"],"as":["e","v"]}],"mark":{"type":"rect"},"encoding":{
"x":{"field":"t","type":"ordinal","scale":{"paddingInner":0,"paddingOuter":0},"axis":{"title":null,"ticks":false,"domain":false,"values":[2000.3,2001.3,2002.3,2003.3,2004.3,2005.3,2006.3,2007.3,2008.3,2009.3,2010.3,2011.3,2012.3,2013.3,2014.3,2015.3,2016.3,2017.3,2018.3,2019.3,2020.3,2021.3],"labelExpr":"floor(datum.value)","labelAngle":-45,"labelAlign":"right","labelBaseline":"top","labelFontSize":33,"labelColor":"#262626","labelPadding":24.5,"labelOffset":4,"labelOverlap":false}},
"y":{"field":"e","type":"ordinal","scale":{"domain":["1600","1500","1400","1300","1200","1100","1000","900","800","700","500","300"],"paddingInner":0,"paddingOuter":0},"axis":{"title":"Elevation bins (m a.s.l.)","titleFontSize":38,"titleFontWeight":"normal","titleColor":"#262626","ticks":false,"domain":false,"labelFontSize":33,"labelColor":"#262626","labelPadding":15,"titlePadding":12}},
"color":{"field":"v","type":"quantitative","scale":{"clamp":true,"domain":[-14.2,-12,-10,-9,-7.5,-6,-5,-4,-3,-2,-1,0,1,2.5,3.5,4.5,5.5,7,8.5,10,11.2],"range":["#3e0712","#6d0a22","#9a1027","#ab1c20","#bb3d24","#c75c3a","#cf7452","#d78b70","#dea48f","#e5beb0","#ecd5ce","#efedec","#d8dfe2","#b5ccd5","#8fb6c8","#6aa5bf","#4a92bd","#2c7cbc","#0f64bf","#1f50b5","#2a3f9f"]},"legend":{"orient":"none","legendX":1735,"legendY":0,"title":null,"gradientLength":614,"gradientThickness":56,"gradientStrokeColor":"#333333","gradientStrokeWidth":1,"values":[-10,-5,0,5,10],"labelExpr":"''+datum.value","labelFontSize":30,"labelColor":"#262626","labelOffset":12,"labelOverlap":false}}}},
{"data":{"name":"s"},"mark":{"type":"rule","color":"#262626","opacity":0.9,"size":6.5},"encoding":{"x":{"field":"t","type":"ordinal","bandPosition":0}}},
{"data":{"values":[{"e":"300"}]},"mark":{"type":"point","opacity":0},"encoding":{"y":{"field":"e","type":"ordinal","axis":{"orient":"right","title":"Albedo anomaly (%)","titleFontSize":34,"titleFontWeight":"normal","titleColor":"#262626","titleAngle":-90,"titleY":328,"labels":false,"ticks":false,"domain":false,"titlePadding":184}}}}
],"resolve":{"axis":{"y":"independent"}}}
]}
